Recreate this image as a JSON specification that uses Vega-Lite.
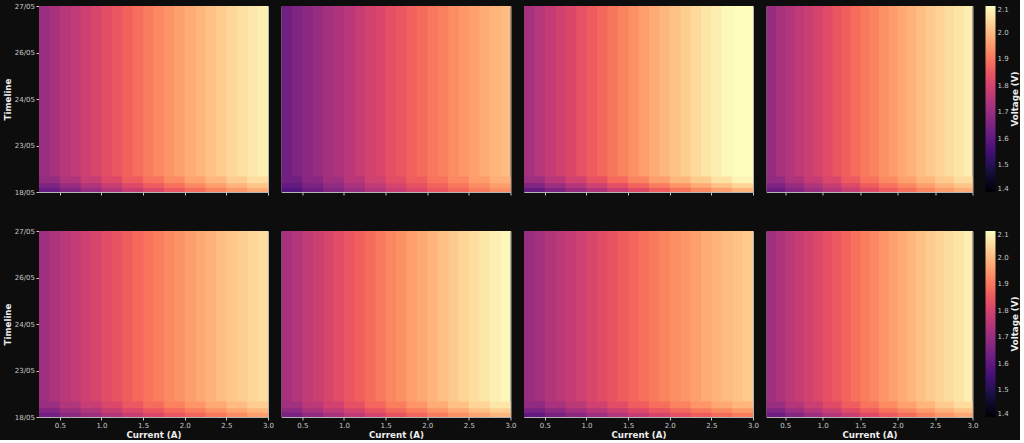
{
"$schema":"https://vega.github.io/schema/vega-lite/v6.json",
"background":"#0d0d0d",
"padding":{"left":2,"top":1,"right":0,"bottom":0},
"data":{"values":[
{"p":1,"c":0.25,"d":0.375,"t":0,"u":4,"v":1.703},{"p":1,"c":0.375,"d":0.5,"t":0,"u":4,"v":1.728},{"p":1,"c":0.5,"d":0.625,"t":0,"u":4,"v":1.75},{"p":1,"c":0.625,"d":0.75,"t":0,"u":4,"v":1.77},{"p":1,"c":0.75,"d":0.875,"t":0,"u":4,"v":1.79},{"p":1,"c":0.875,"d":1,"t":0,"u":4,"v":1.81},{"p":1,"c":1,"d":1.125,"t":0,"u":4,"v":1.83},{"p":1,"c":1.125,"d":1.25,"t":0,"u":4,"v":1.85},{"p":1,"c":1.25,"d":1.375,"t":0,"u":4,"v":1.87},{"p":1,"c":1.375,"d":1.5,"t":0,"u":4,"v":1.89},{"p":1,"c":1.5,"d":1.625,"t":0,"u":4,"v":1.909},{"p":1,"c":1.625,"d":1.75,"t":0,"u":4,"v":1.926},{"p":1,"c":1.75,"d":1.875,"t":0,"u":4,"v":1.944},{"p":1,"c":1.875,"d":2,"t":0,"u":4,"v":1.961},{"p":1,"c":2,"d":2.125,"t":0,"u":4,"v":1.978},{"p":1,"c":2.125,"d":2.25,"t":0,"u":4,"v":1.994},{"p":1,"c":2.25,"d":2.375,"t":0,"u":4,"v":2.01},{"p":1,"c":2.375,"d":2.5,"t":0,"u":4,"v":2.027},{"p":1,"c":2.5,"d":2.625,"t":0,"u":4,"v":2.042},{"p":1,"c":2.625,"d":2.75,"t":0,"u":4,"v":2.056},{"p":1,"c":2.75,"d":2.875,"t":0,"u":4,"v":2.069},{"p":1,"c":2.875,"d":3,"t":0,"u":4,"v":2.083},
{"p":2,"c":0.25,"d":0.375,"t":0,"u":4,"v":1.632},{"p":2,"c":0.375,"d":0.5,"t":0,"u":4,"v":1.657},{"p":2,"c":0.5,"d":0.625,"t":0,"u":4,"v":1.678},{"p":2,"c":0.625,"d":0.75,"t":0,"u":4,"v":1.698},{"p":2,"c":0.75,"d":0.875,"t":0,"u":4,"v":1.718},{"p":2,"c":0.875,"d":1,"t":0,"u":4,"v":1.737},{"p":2,"c":1,"d":1.125,"t":0,"u":4,"v":1.757},{"p":2,"c":1.125,"d":1.25,"t":0,"u":4,"v":1.776},{"p":2,"c":1.25,"d":1.375,"t":0,"u":4,"v":1.796},{"p":2,"c":1.375,"d":1.5,"t":0,"u":4,"v":1.815},{"p":2,"c":1.5,"d":1.625,"t":0,"u":4,"v":1.834},{"p":2,"c":1.625,"d":1.75,"t":0,"u":4,"v":1.85},{"p":2,"c":1.75,"d":1.875,"t":0,"u":4,"v":1.868},{"p":2,"c":1.875,"d":2,"t":0,"u":4,"v":1.884},{"p":2,"c":2,"d":2.125,"t":0,"u":4,"v":1.901},{"p":2,"c":2.125,"d":2.25,"t":0,"u":4,"v":1.916},{"p":2,"c":2.25,"d":2.375,"t":0,"u":4,"v":1.932},{"p":2,"c":2.375,"d":2.5,"t":0,"u":4,"v":1.949},{"p":2,"c":2.5,"d":2.625,"t":0,"u":4,"v":1.963},{"p":2,"c":2.625,"d":2.75,"t":0,"u":4,"v":1.977},{"p":2,"c":2.75,"d":2.875,"t":0,"u":4,"v":1.99},{"p":2,"c":2.875,"d":3,"t":0,"u":4,"v":2.003},
{"p":3,"c":0.25,"d":0.375,"t":0,"u":4,"v":1.723},{"p":3,"c":0.375,"d":0.5,"t":0,"u":4,"v":1.75},{"p":3,"c":0.5,"d":0.625,"t":0,"u":4,"v":1.773},{"p":3,"c":0.625,"d":0.75,"t":0,"u":4,"v":1.794},{"p":3,"c":0.75,"d":0.875,"t":0,"u":4,"v":1.815},{"p":3,"c":0.875,"d":1,"t":0,"u":4,"v":1.836},{"p":3,"c":1,"d":1.125,"t":0,"u":4,"v":1.857},{"p":3,"c":1.125,"d":1.25,"t":0,"u":4,"v":1.878},{"p":3,"c":1.25,"d":1.375,"t":0,"u":4,"v":1.899},{"p":3,"c":1.375,"d":1.5,"t":0,"u":4,"v":1.92},{"p":3,"c":1.5,"d":1.625,"t":0,"u":4,"v":1.94},{"p":3,"c":1.625,"d":1.75,"t":0,"u":4,"v":1.958},{"p":3,"c":1.75,"d":1.875,"t":0,"u":4,"v":1.977},{"p":3,"c":1.875,"d":2,"t":0,"u":4,"v":1.995},{"p":3,"c":2,"d":2.125,"t":0,"u":4,"v":2.012},{"p":3,"c":2.125,"d":2.25,"t":0,"u":4,"v":2.029},{"p":3,"c":2.25,"d":2.375,"t":0,"u":4,"v":2.046},{"p":3,"c":2.375,"d":2.5,"t":0,"u":4,"v":2.064},{"p":3,"c":2.5,"d":2.625,"t":0,"u":4,"v":2.08},{"p":3,"c":2.625,"d":2.75,"t":0,"u":4,"v":2.094},{"p":3,"c":2.75,"d":2.875,"t":0,"u":4,"v":2.108},{"p":3,"c":2.875,"d":3,"t":0,"u":4,"v":2.123},
{"p":4,"c":0.25,"d":0.375,"t":0,"u":4,"v":1.698},{"p":4,"c":0.375,"d":0.5,"t":0,"u":4,"v":1.723},{"p":4,"c":0.5,"d":0.625,"t":0,"u":4,"v":1.745},{"p":4,"c":0.625,"d":0.75,"t":0,"u":4,"v":1.765},{"p":4,"c":0.75,"d":0.875,"t":0,"u":4,"v":1.785},{"p":4,"c":0.875,"d":1,"t":0,"u":4,"v":1.805},{"p":4,"c":1,"d":1.125,"t":0,"u":4,"v":1.825},{"p":4,"c":1.125,"d":1.25,"t":0,"u":4,"v":1.845},{"p":4,"c":1.25,"d":1.375,"t":0,"u":4,"v":1.865},{"p":4,"c":1.375,"d":1.5,"t":0,"u":4,"v":1.885},{"p":4,"c":1.5,"d":1.625,"t":0,"u":4,"v":1.904},{"p":4,"c":1.625,"d":1.75,"t":0,"u":4,"v":1.921},{"p":4,"c":1.75,"d":1.875,"t":0,"u":4,"v":1.939},{"p":4,"c":1.875,"d":2,"t":0,"u":4,"v":1.956},{"p":4,"c":2,"d":2.125,"t":0,"u":4,"v":1.973},{"p":4,"c":2.125,"d":2.25,"t":0,"u":4,"v":1.989},{"p":4,"c":2.25,"d":2.375,"t":0,"u":4,"v":2.005},{"p":4,"c":2.375,"d":2.5,"t":0,"u":4,"v":2.022},{"p":4,"c":2.5,"d":2.625,"t":0,"u":4,"v":2.037},{"p":4,"c":2.625,"d":2.75,"t":0,"u":4,"v":2.051},{"p":4,"c":2.75,"d":2.875,"t":0,"u":4,"v":2.064},{"p":4,"c":2.875,"d":3,"t":0,"u":4,"v":2.078},
{"p":5,"c":0.25,"d":0.375,"t":0,"u":4,"v":1.712},{"p":5,"c":0.375,"d":0.5,"t":0,"u":4,"v":1.734},{"p":5,"c":0.5,"d":0.625,"t":0,"u":4,"v":1.754},{"p":5,"c":0.625,"d":0.75,"t":0,"u":4,"v":1.772},{"p":5,"c":0.75,"d":0.875,"t":0,"u":4,"v":1.79},{"p":5,"c":0.875,"d":1,"t":0,"u":4,"v":1.808},{"p":5,"c":1,"d":1.125,"t":0,"u":4,"v":1.826},{"p":5,"c":1.125,"d":1.25,"t":0,"u":4,"v":1.844},{"p":5,"c":1.25,"d":1.375,"t":0,"u":4,"v":1.862},{"p":5,"c":1.375,"d":1.5,"t":0,"u":4,"v":1.88},{"p":5,"c":1.5,"d":1.625,"t":0,"u":4,"v":1.897},{"p":5,"c":1.625,"d":1.75,"t":0,"u":4,"v":1.912},{"p":5,"c":1.75,"d":1.875,"t":0,"u":4,"v":1.929},{"p":5,"c":1.875,"d":2,"t":0,"u":4,"v":1.944},{"p":5,"c":2,"d":2.125,"t":0,"u":4,"v":1.959},{"p":5,"c":2.125,"d":2.25,"t":0,"u":4,"v":1.974},{"p":5,"c":2.25,"d":2.375,"t":0,"u":4,"v":1.988},{"p":5,"c":2.375,"d":2.5,"t":0,"u":4,"v":2.004},{"p":5,"c":2.5,"d":2.625,"t":0,"u":4,"v":2.017},{"p":5,"c":2.625,"d":2.75,"t":0,"u":4,"v":2.029},{"p":5,"c":2.75,"d":2.875,"t":0,"u":4,"v":2.041},{"p":5,"c":2.875,"d":3,"t":0,"u":4,"v":2.054},
{"p":6,"c":0.25,"d":0.375,"t":0,"u":4,"v":1.723},{"p":6,"c":0.375,"d":0.5,"t":0,"u":4,"v":1.747},{"p":6,"c":0.5,"d":0.625,"t":0,"u":4,"v":1.769},{"p":6,"c":0.625,"d":0.75,"t":0,"u":4,"v":1.788},{"p":6,"c":0.75,"d":0.875,"t":0,"u":4,"v":1.808},{"p":6,"c":0.875,"d":1,"t":0,"u":4,"v":1.827},{"p":6,"c":1,"d":1.125,"t":0,"u":4,"v":1.847},{"p":6,"c":1.125,"d":1.25,"t":0,"u":4,"v":1.866},{"p":6,"c":1.25,"d":1.375,"t":0,"u":4,"v":1.886},{"p":6,"c":1.375,"d":1.5,"t":0,"u":4,"v":1.905},{"p":6,"c":1.5,"d":1.625,"t":0,"u":4,"v":1.924},{"p":6,"c":1.625,"d":1.75,"t":0,"u":4,"v":1.94},{"p":6,"c":1.75,"d":1.875,"t":0,"u":4,"v":1.958},{"p":6,"c":1.875,"d":2,"t":0,"u":4,"v":1.974},{"p":6,"c":2,"d":2.125,"t":0,"u":4,"v":1.991},{"p":6,"c":2.125,"d":2.25,"t":0,"u":4,"v":2.006},{"p":6,"c":2.25,"d":2.375,"t":0,"u":4,"v":2.022},{"p":6,"c":2.375,"d":2.5,"t":0,"u":4,"v":2.039},{"p":6,"c":2.5,"d":2.625,"t":0,"u":4,"v":2.053},{"p":6,"c":2.625,"d":2.75,"t":0,"u":4,"v":2.067},{"p":6,"c":2.75,"d":2.875,"t":0,"u":4,"v":2.08},{"p":6,"c":2.875,"d":3,"t":0,"u":4,"v":2.093},
{"p":7,"c":0.25,"d":0.375,"t":0,"u":4,"v":1.701},{"p":7,"c":0.375,"d":0.5,"t":0,"u":4,"v":1.722},{"p":7,"c":0.5,"d":0.625,"t":0,"u":4,"v":1.741},{"p":7,"c":0.625,"d":0.75,"t":0,"u":4,"v":1.758},{"p":7,"c":0.75,"d":0.875,"t":0,"u":4,"v":1.775},{"p":7,"c":0.875,"d":1,"t":0,"u":4,"v":1.792},{"p":7,"c":1,"d":1.125,"t":0,"u":4,"v":1.809},{"p":7,"c":1.125,"d":1.25,"t":0,"u":4,"v":1.826},{"p":7,"c":1.25,"d":1.375,"t":0,"u":4,"v":1.843},{"p":7,"c":1.375,"d":1.5,"t":0,"u":4,"v":1.86},{"p":7,"c":1.5,"d":1.625,"t":0,"u":4,"v":1.876},{"p":7,"c":1.625,"d":1.75,"t":0,"u":4,"v":1.891},{"p":7,"c":1.75,"d":1.875,"t":0,"u":4,"v":1.906},{"p":7,"c":1.875,"d":2,"t":0,"u":4,"v":1.921},{"p":7,"c":2,"d":2.125,"t":0,"u":4,"v":1.935},{"p":7,"c":2.125,"d":2.25,"t":0,"u":4,"v":1.948},{"p":7,"c":2.25,"d":2.375,"t":0,"u":4,"v":1.962},{"p":7,"c":2.375,"d":2.5,"t":0,"u":4,"v":1.977},{"p":7,"c":2.5,"d":2.625,"t":0,"u":4,"v":1.989},{"p":7,"c":2.625,"d":2.75,"t":0,"u":4,"v":2.001},{"p":7,"c":2.75,"d":2.875,"t":0,"u":4,"v":2.012},{"p":7,"c":2.875,"d":3,"t":0,"u":4,"v":2.024},
{"p":8,"c":0.25,"d":0.375,"t":0,"u":4,"v":1.712},{"p":8,"c":0.375,"d":0.5,"t":0,"u":4,"v":1.736},{"p":8,"c":0.5,"d":0.625,"t":0,"u":4,"v":1.758},{"p":8,"c":0.625,"d":0.75,"t":0,"u":4,"v":1.777},{"p":8,"c":0.75,"d":0.875,"t":0,"u":4,"v":1.796},{"p":8,"c":0.875,"d":1,"t":0,"u":4,"v":1.816},{"p":8,"c":1,"d":1.125,"t":0,"u":4,"v":1.835},{"p":8,"c":1.125,"d":1.25,"t":0,"u":4,"v":1.854},{"p":8,"c":1.25,"d":1.375,"t":0,"u":4,"v":1.873},{"p":8,"c":1.375,"d":1.5,"t":0,"u":4,"v":1.893},{"p":8,"c":1.5,"d":1.625,"t":0,"u":4,"v":1.911},{"p":8,"c":1.625,"d":1.75,"t":0,"u":4,"v":1.927},{"p":8,"c":1.75,"d":1.875,"t":0,"u":4,"v":1.945},{"p":8,"c":1.875,"d":2,"t":0,"u":4,"v":1.961},{"p":8,"c":2,"d":2.125,"t":0,"u":4,"v":1.977},{"p":8,"c":2.125,"d":2.25,"t":0,"u":4,"v":1.993},{"p":8,"c":2.25,"d":2.375,"t":0,"u":4,"v":2.008},{"p":8,"c":2.375,"d":2.5,"t":0,"u":4,"v":2.025},{"p":8,"c":2.5,"d":2.625,"t":0,"u":4,"v":2.039},{"p":8,"c":2.625,"d":2.75,"t":0,"u":4,"v":2.052},{"p":8,"c":2.75,"d":2.875,"t":0,"u":4,"v":2.065},{"p":8,"c":2.875,"d":3,"t":0,"u":4,"v":2.079},
{"p":1,"c":0.25,"d":0.5,"t":0,"u":0.09,"v":1.616},{"p":1,"c":0.5,"d":0.75,"t":0,"u":0.09,"v":1.661},{"p":1,"c":0.75,"d":1,"t":0,"u":0.09,"v":1.701},{"p":1,"c":1,"d":1.25,"t":0,"u":0.09,"v":1.741},{"p":1,"c":1.25,"d":1.5,"t":0,"u":0.09,"v":1.781},{"p":1,"c":1.5,"d":1.75,"t":0,"u":0.09,"v":1.819},{"p":1,"c":1.75,"d":2,"t":0,"u":0.09,"v":1.854},{"p":1,"c":2,"d":2.25,"t":0,"u":0.09,"v":1.887},{"p":1,"c":2.25,"d":2.5,"t":0,"u":0.09,"v":1.919},{"p":1,"c":2.5,"d":2.75,"t":0,"u":0.09,"v":1.95},{"p":1,"c":2.75,"d":3,"t":0,"u":0.09,"v":1.977},
{"p":1,"c":0.25,"d":0.5,"t":0.09,"u":0.19,"v":1.655},{"p":1,"c":0.5,"d":0.75,"t":0.09,"u":0.19,"v":1.7},{"p":1,"c":0.75,"d":1,"t":0.09,"u":0.19,"v":1.74},{"p":1,"c":1,"d":1.25,"t":0.09,"u":0.19,"v":1.78},{"p":1,"c":1.25,"d":1.5,"t":0.09,"u":0.19,"v":1.82},{"p":1,"c":1.5,"d":1.75,"t":0.09,"u":0.19,"v":1.858},{"p":1,"c":1.75,"d":2,"t":0.09,"u":0.19,"v":1.893},{"p":1,"c":2,"d":2.25,"t":0.09,"u":0.19,"v":1.926},{"p":1,"c":2.25,"d":2.5,"t":0.09,"u":0.19,"v":1.958},{"p":1,"c":2.5,"d":2.75,"t":0.09,"u":0.19,"v":1.989},{"p":1,"c":2.75,"d":3,"t":0.09,"u":0.19,"v":2.016},
{"p":1,"c":0.25,"d":0.5,"t":0.19,"u":0.32,"v":1.693},{"p":1,"c":0.5,"d":0.75,"t":0.19,"u":0.32,"v":1.738},{"p":1,"c":0.75,"d":1,"t":0.19,"u":0.32,"v":1.778},{"p":1,"c":1,"d":1.25,"t":0.19,"u":0.32,"v":1.818},{"p":1,"c":1.25,"d":1.5,"t":0.19,"u":0.32,"v":1.858},{"p":1,"c":1.5,"d":1.75,"t":0.19,"u":0.32,"v":1.896},{"p":1,"c":1.75,"d":2,"t":0.19,"u":0.32,"v":1.931},{"p":1,"c":2,"d":2.25,"t":0.19,"u":0.32,"v":1.964},{"p":1,"c":2.25,"d":2.5,"t":0.19,"u":0.32,"v":1.996},{"p":1,"c":2.5,"d":2.75,"t":0.19,"u":0.32,"v":2.027},{"p":1,"c":2.75,"d":3,"t":0.19,"u":0.32,"v":2.054},
{"p":2,"c":0.25,"d":0.5,"t":0,"u":0.09,"v":1.582},{"p":2,"c":0.5,"d":0.75,"t":0,"u":0.09,"v":1.625},{"p":2,"c":0.75,"d":1,"t":0,"u":0.09,"v":1.664},{"p":2,"c":1,"d":1.25,"t":0,"u":0.09,"v":1.703},{"p":2,"c":1.25,"d":1.5,"t":0,"u":0.09,"v":1.742},{"p":2,"c":1.5,"d":1.75,"t":0,"u":0.09,"v":1.779},{"p":2,"c":1.75,"d":2,"t":0,"u":0.09,"v":1.813},{"p":2,"c":2,"d":2.25,"t":0,"u":0.09,"v":1.846},{"p":2,"c":2.25,"d":2.5,"t":0,"u":0.09,"v":1.877},{"p":2,"c":2.5,"d":2.75,"t":0,"u":0.09,"v":1.907},{"p":2,"c":2.75,"d":3,"t":0,"u":0.09,"v":1.934},
{"p":2,"c":0.25,"d":0.5,"t":0.09,"u":0.19,"v":1.607},{"p":2,"c":0.5,"d":0.75,"t":0.09,"u":0.19,"v":1.65},{"p":2,"c":0.75,"d":1,"t":0.09,"u":0.19,"v":1.689},{"p":2,"c":1,"d":1.25,"t":0.09,"u":0.19,"v":1.728},{"p":2,"c":1.25,"d":1.5,"t":0.09,"u":0.19,"v":1.767},{"p":2,"c":1.5,"d":1.75,"t":0.09,"u":0.19,"v":1.804},{"p":2,"c":1.75,"d":2,"t":0.09,"u":0.19,"v":1.838},{"p":2,"c":2,"d":2.25,"t":0.09,"u":0.19,"v":1.871},{"p":2,"c":2.25,"d":2.5,"t":0.09,"u":0.19,"v":1.902},{"p":2,"c":2.5,"d":2.75,"t":0.09,"u":0.19,"v":1.932},{"p":2,"c":2.75,"d":3,"t":0.09,"u":0.19,"v":1.959},
{"p":2,"c":0.25,"d":0.5,"t":0.19,"u":0.32,"v":1.631},{"p":2,"c":0.5,"d":0.75,"t":0.19,"u":0.32,"v":1.674},{"p":2,"c":0.75,"d":1,"t":0.19,"u":0.32,"v":1.713},{"p":2,"c":1,"d":1.25,"t":0.19,"u":0.32,"v":1.752},{"p":2,"c":1.25,"d":1.5,"t":0.19,"u":0.32,"v":1.791},{"p":2,"c":1.5,"d":1.75,"t":0.19,"u":0.32,"v":1.828},{"p":2,"c":1.75,"d":2,"t":0.19,"u":0.32,"v":1.862},{"p":2,"c":2,"d":2.25,"t":0.19,"u":0.32,"v":1.895},{"p":2,"c":2.25,"d":2.5,"t":0.19,"u":0.32,"v":1.926},{"p":2,"c":2.5,"d":2.75,"t":0.19,"u":0.32,"v":1.956},{"p":2,"c":2.75,"d":3,"t":0.19,"u":0.32,"v":1.983},
{"p":3,"c":0.25,"d":0.5,"t":0,"u":0.09,"v":1.61},{"p":3,"c":0.5,"d":0.75,"t":0,"u":0.09,"v":1.658},{"p":3,"c":0.75,"d":1,"t":0,"u":0.09,"v":1.7},{"p":3,"c":1,"d":1.25,"t":0,"u":0.09,"v":1.742},{"p":3,"c":1.25,"d":1.5,"t":0,"u":0.09,"v":1.784},{"p":3,"c":1.5,"d":1.75,"t":0,"u":0.09,"v":1.823},{"p":3,"c":1.75,"d":2,"t":0,"u":0.09,"v":1.86},{"p":3,"c":2,"d":2.25,"t":0,"u":0.09,"v":1.895},{"p":3,"c":2.25,"d":2.5,"t":0,"u":0.09,"v":1.928},{"p":3,"c":2.5,"d":2.75,"t":0,"u":0.09,"v":1.961},{"p":3,"c":2.75,"d":3,"t":0,"u":0.09,"v":1.99},
{"p":3,"c":0.25,"d":0.5,"t":0.09,"u":0.19,"v":1.659},{"p":3,"c":0.5,"d":0.75,"t":0.09,"u":0.19,"v":1.707},{"p":3,"c":0.75,"d":1,"t":0.09,"u":0.19,"v":1.749},{"p":3,"c":1,"d":1.25,"t":0.09,"u":0.19,"v":1.791},{"p":3,"c":1.25,"d":1.5,"t":0.09,"u":0.19,"v":1.833},{"p":3,"c":1.5,"d":1.75,"t":0.09,"u":0.19,"v":1.872},{"p":3,"c":1.75,"d":2,"t":0.09,"u":0.19,"v":1.909},{"p":3,"c":2,"d":2.25,"t":0.09,"u":0.19,"v":1.944},{"p":3,"c":2.25,"d":2.5,"t":0.09,"u":0.19,"v":1.977},{"p":3,"c":2.5,"d":2.75,"t":0.09,"u":0.19,"v":2.01},{"p":3,"c":2.75,"d":3,"t":0.09,"u":0.19,"v":2.039},
{"p":3,"c":0.25,"d":0.5,"t":0.19,"u":0.32,"v":1.708},{"p":3,"c":0.5,"d":0.75,"t":0.19,"u":0.32,"v":1.756},{"p":3,"c":0.75,"d":1,"t":0.19,"u":0.32,"v":1.798},{"p":3,"c":1,"d":1.25,"t":0.19,"u":0.32,"v":1.84},{"p":3,"c":1.25,"d":1.5,"t":0.19,"u":0.32,"v":1.882},{"p":3,"c":1.5,"d":1.75,"t":0.19,"u":0.32,"v":1.921},{"p":3,"c":1.75,"d":2,"t":0.19,"u":0.32,"v":1.958},{"p":3,"c":2,"d":2.25,"t":0.19,"u":0.32,"v":1.993},{"p":3,"c":2.25,"d":2.5,"t":0.19,"u":0.32,"v":2.026},{"p":3,"c":2.5,"d":2.75,"t":0.19,"u":0.32,"v":2.059},{"p":3,"c":2.75,"d":3,"t":0.19,"u":0.32,"v":2.088},
{"p":4,"c":0.25,"d":0.5,"t":0,"u":0.09,"v":1.62},{"p":4,"c":0.5,"d":0.75,"t":0,"u":0.09,"v":1.665},{"p":4,"c":0.75,"d":1,"t":0,"u":0.09,"v":1.705},{"p":4,"c":1,"d":1.25,"t":0,"u":0.09,"v":1.745},{"p":4,"c":1.25,"d":1.5,"t":0,"u":0.09,"v":1.785},{"p":4,"c":1.5,"d":1.75,"t":0,"u":0.09,"v":1.823},{"p":4,"c":1.75,"d":2,"t":0,"u":0.09,"v":1.858},{"p":4,"c":2,"d":2.25,"t":0,"u":0.09,"v":1.891},{"p":4,"c":2.25,"d":2.5,"t":0,"u":0.09,"v":1.923},{"p":4,"c":2.5,"d":2.75,"t":0,"u":0.09,"v":1.954},{"p":4,"c":2.75,"d":3,"t":0,"u":0.09,"v":1.981},
{"p":4,"c":0.25,"d":0.5,"t":0.09,"u":0.19,"v":1.655},{"p":4,"c":0.5,"d":0.75,"t":0.09,"u":0.19,"v":1.7},{"p":4,"c":0.75,"d":1,"t":0.09,"u":0.19,"v":1.74},{"p":4,"c":1,"d":1.25,"t":0.09,"u":0.19,"v":1.78},{"p":4,"c":1.25,"d":1.5,"t":0.09,"u":0.19,"v":1.82},{"p":4,"c":1.5,"d":1.75,"t":0.09,"u":0.19,"v":1.858},{"p":4,"c":1.75,"d":2,"t":0.09,"u":0.19,"v":1.893},{"p":4,"c":2,"d":2.25,"t":0.09,"u":0.19,"v":1.926},{"p":4,"c":2.25,"d":2.5,"t":0.09,"u":0.19,"v":1.958},{"p":4,"c":2.5,"d":2.75,"t":0.09,"u":0.19,"v":1.989},{"p":4,"c":2.75,"d":3,"t":0.09,"u":0.19,"v":2.016},
{"p":4,"c":0.25,"d":0.5,"t":0.19,"u":0.32,"v":1.69},{"p":4,"c":0.5,"d":0.75,"t":0.19,"u":0.32,"v":1.735},{"p":4,"c":0.75,"d":1,"t":0.19,"u":0.32,"v":1.775},{"p":4,"c":1,"d":1.25,"t":0.19,"u":0.32,"v":1.815},{"p":4,"c":1.25,"d":1.5,"t":0.19,"u":0.32,"v":1.855},{"p":4,"c":1.5,"d":1.75,"t":0.19,"u":0.32,"v":1.893},{"p":4,"c":1.75,"d":2,"t":0.19,"u":0.32,"v":1.928},{"p":4,"c":2,"d":2.25,"t":0.19,"u":0.32,"v":1.961},{"p":4,"c":2.25,"d":2.5,"t":0.19,"u":0.32,"v":1.993},{"p":4,"c":2.5,"d":2.75,"t":0.19,"u":0.32,"v":2.024},{"p":4,"c":2.75,"d":3,"t":0.19,"u":0.32,"v":2.051},
{"p":5,"c":0.25,"d":0.5,"t":0,"u":0.09,"v":1.633},{"p":5,"c":0.5,"d":0.75,"t":0,"u":0.09,"v":1.673},{"p":5,"c":0.75,"d":1,"t":0,"u":0.09,"v":1.709},{"p":5,"c":1,"d":1.25,"t":0,"u":0.09,"v":1.745},{"p":5,"c":1.25,"d":1.5,"t":0,"u":0.09,"v":1.781},{"p":5,"c":1.5,"d":1.75,"t":0,"u":0.09,"v":1.815},{"p":5,"c":1.75,"d":2,"t":0,"u":0.09,"v":1.847},{"p":5,"c":2,"d":2.25,"t":0,"u":0.09,"v":1.876},{"p":5,"c":2.25,"d":2.5,"t":0,"u":0.09,"v":1.905},{"p":5,"c":2.5,"d":2.75,"t":0,"u":0.09,"v":1.933},{"p":5,"c":2.75,"d":3,"t":0,"u":0.09,"v":1.958},
{"p":5,"c":0.25,"d":0.5,"t":0.09,"u":0.19,"v":1.668},{"p":5,"c":0.5,"d":0.75,"t":0.09,"u":0.19,"v":1.708},{"p":5,"c":0.75,"d":1,"t":0.09,"u":0.19,"v":1.744},{"p":5,"c":1,"d":1.25,"t":0.09,"u":0.19,"v":1.78},{"p":5,"c":1.25,"d":1.5,"t":0.09,"u":0.19,"v":1.816},{"p":5,"c":1.5,"d":1.75,"t":0.09,"u":0.19,"v":1.85},{"p":5,"c":1.75,"d":2,"t":0.09,"u":0.19,"v":1.882},{"p":5,"c":2,"d":2.25,"t":0.09,"u":0.19,"v":1.911},{"p":5,"c":2.25,"d":2.5,"t":0.09,"u":0.19,"v":1.94},{"p":5,"c":2.5,"d":2.75,"t":0.09,"u":0.19,"v":1.968},{"p":5,"c":2.75,"d":3,"t":0.09,"u":0.19,"v":1.993},
{"p":5,"c":0.25,"d":0.5,"t":0.19,"u":0.32,"v":1.703},{"p":5,"c":0.5,"d":0.75,"t":0.19,"u":0.32,"v":1.743},{"p":5,"c":0.75,"d":1,"t":0.19,"u":0.32,"v":1.779},{"p":5,"c":1,"d":1.25,"t":0.19,"u":0.32,"v":1.815},{"p":5,"c":1.25,"d":1.5,"t":0.19,"u":0.32,"v":1.851},{"p":5,"c":1.5,"d":1.75,"t":0.19,"u":0.32,"v":1.885},{"p":5,"c":1.75,"d":2,"t":0.19,"u":0.32,"v":1.917},{"p":5,"c":2,"d":2.25,"t":0.19,"u":0.32,"v":1.946},{"p":5,"c":2.25,"d":2.5,"t":0.19,"u":0.32,"v":1.975},{"p":5,"c":2.5,"d":2.75,"t":0.19,"u":0.32,"v":2.003},{"p":5,"c":2.75,"d":3,"t":0.19,"u":0.32,"v":2.028},
{"p":6,"c":0.25,"d":0.5,"t":0,"u":0.09,"v":1.645},{"p":6,"c":0.5,"d":0.75,"t":0,"u":0.09,"v":1.688},{"p":6,"c":0.75,"d":1,"t":0,"u":0.09,"v":1.727},{"p":6,"c":1,"d":1.25,"t":0,"u":0.09,"v":1.766},{"p":6,"c":1.25,"d":1.5,"t":0,"u":0.09,"v":1.805},{"p":6,"c":1.5,"d":1.75,"t":0,"u":0.09,"v":1.842},{"p":6,"c":1.75,"d":2,"t":0,"u":0.09,"v":1.876},{"p":6,"c":2,"d":2.25,"t":0,"u":0.09,"v":1.909},{"p":6,"c":2.25,"d":2.5,"t":0,"u":0.09,"v":1.94},{"p":6,"c":2.5,"d":2.75,"t":0,"u":0.09,"v":1.97},{"p":6,"c":2.75,"d":3,"t":0,"u":0.09,"v":1.997},
{"p":6,"c":0.25,"d":0.5,"t":0.09,"u":0.19,"v":1.68},{"p":6,"c":0.5,"d":0.75,"t":0.09,"u":0.19,"v":1.723},{"p":6,"c":0.75,"d":1,"t":0.09,"u":0.19,"v":1.762},{"p":6,"c":1,"d":1.25,"t":0.09,"u":0.19,"v":1.801},{"p":6,"c":1.25,"d":1.5,"t":0.09,"u":0.19,"v":1.84},{"p":6,"c":1.5,"d":1.75,"t":0.09,"u":0.19,"v":1.877},{"p":6,"c":1.75,"d":2,"t":0.09,"u":0.19,"v":1.911},{"p":6,"c":2,"d":2.25,"t":0.09,"u":0.19,"v":1.944},{"p":6,"c":2.25,"d":2.5,"t":0.09,"u":0.19,"v":1.975},{"p":6,"c":2.5,"d":2.75,"t":0.09,"u":0.19,"v":2.005},{"p":6,"c":2.75,"d":3,"t":0.09,"u":0.19,"v":2.032},
{"p":6,"c":0.25,"d":0.5,"t":0.19,"u":0.32,"v":1.715},{"p":6,"c":0.5,"d":0.75,"t":0.19,"u":0.32,"v":1.758},{"p":6,"c":0.75,"d":1,"t":0.19,"u":0.32,"v":1.797},{"p":6,"c":1,"d":1.25,"t":0.19,"u":0.32,"v":1.836},{"p":6,"c":1.25,"d":1.5,"t":0.19,"u":0.32,"v":1.875},{"p":6,"c":1.5,"d":1.75,"t":0.19,"u":0.32,"v":1.912},{"p":6,"c":1.75,"d":2,"t":0.19,"u":0.32,"v":1.946},{"p":6,"c":2,"d":2.25,"t":0.19,"u":0.32,"v":1.979},{"p":6,"c":2.25,"d":2.5,"t":0.19,"u":0.32,"v":2.01},{"p":6,"c":2.5,"d":2.75,"t":0.19,"u":0.32,"v":2.04},{"p":6,"c":2.75,"d":3,"t":0.19,"u":0.32,"v":2.067},
{"p":7,"c":0.25,"d":0.5,"t":0,"u":0.09,"v":1.603},{"p":7,"c":0.5,"d":0.75,"t":0,"u":0.09,"v":1.642},{"p":7,"c":0.75,"d":1,"t":0,"u":0.09,"v":1.676},{"p":7,"c":1,"d":1.25,"t":0,"u":0.09,"v":1.71},{"p":7,"c":1.25,"d":1.5,"t":0,"u":0.09,"v":1.744},{"p":7,"c":1.5,"d":1.75,"t":0,"u":0.09,"v":1.776},{"p":7,"c":1.75,"d":2,"t":0,"u":0.09,"v":1.805},{"p":7,"c":2,"d":2.25,"t":0,"u":0.09,"v":1.834},{"p":7,"c":2.25,"d":2.5,"t":0,"u":0.09,"v":1.861},{"p":7,"c":2.5,"d":2.75,"t":0,"u":0.09,"v":1.887},{"p":7,"c":2.75,"d":3,"t":0,"u":0.09,"v":1.91},
{"p":7,"c":0.25,"d":0.5,"t":0.09,"u":0.19,"v":1.645},{"p":7,"c":0.5,"d":0.75,"t":0.09,"u":0.19,"v":1.684},{"p":7,"c":0.75,"d":1,"t":0.09,"u":0.19,"v":1.718},{"p":7,"c":1,"d":1.25,"t":0.09,"u":0.19,"v":1.752},{"p":7,"c":1.25,"d":1.5,"t":0.09,"u":0.19,"v":1.786},{"p":7,"c":1.5,"d":1.75,"t":0.09,"u":0.19,"v":1.818},{"p":7,"c":1.75,"d":2,"t":0.09,"u":0.19,"v":1.847},{"p":7,"c":2,"d":2.25,"t":0.09,"u":0.19,"v":1.876},{"p":7,"c":2.25,"d":2.5,"t":0.09,"u":0.19,"v":1.903},{"p":7,"c":2.5,"d":2.75,"t":0.09,"u":0.19,"v":1.929},{"p":7,"c":2.75,"d":3,"t":0.09,"u":0.19,"v":1.952},
{"p":7,"c":0.25,"d":0.5,"t":0.19,"u":0.32,"v":1.687},{"p":7,"c":0.5,"d":0.75,"t":0.19,"u":0.32,"v":1.726},{"p":7,"c":0.75,"d":1,"t":0.19,"u":0.32,"v":1.76},{"p":7,"c":1,"d":1.25,"t":0.19,"u":0.32,"v":1.794},{"p":7,"c":1.25,"d":1.5,"t":0.19,"u":0.32,"v":1.828},{"p":7,"c":1.5,"d":1.75,"t":0.19,"u":0.32,"v":1.86},{"p":7,"c":1.75,"d":2,"t":0.19,"u":0.32,"v":1.889},{"p":7,"c":2,"d":2.25,"t":0.19,"u":0.32,"v":1.918},{"p":7,"c":2.25,"d":2.5,"t":0.19,"u":0.32,"v":1.945},{"p":7,"c":2.5,"d":2.75,"t":0.19,"u":0.32,"v":1.971},{"p":7,"c":2.75,"d":3,"t":0.19,"u":0.32,"v":1.994},
{"p":8,"c":0.25,"d":0.5,"t":0,"u":0.09,"v":1.625},{"p":8,"c":0.5,"d":0.75,"t":0,"u":0.09,"v":1.668},{"p":8,"c":0.75,"d":1,"t":0,"u":0.09,"v":1.707},{"p":8,"c":1,"d":1.25,"t":0,"u":0.09,"v":1.745},{"p":8,"c":1.25,"d":1.5,"t":0,"u":0.09,"v":1.784},{"p":8,"c":1.5,"d":1.75,"t":0,"u":0.09,"v":1.82},{"p":8,"c":1.75,"d":2,"t":0,"u":0.09,"v":1.854},{"p":8,"c":2,"d":2.25,"t":0,"u":0.09,"v":1.886},{"p":8,"c":2.25,"d":2.5,"t":0,"u":0.09,"v":1.917},{"p":8,"c":2.5,"d":2.75,"t":0,"u":0.09,"v":1.947},{"p":8,"c":2.75,"d":3,"t":0,"u":0.09,"v":1.973},
{"p":8,"c":0.25,"d":0.5,"t":0.09,"u":0.19,"v":1.664},{"p":8,"c":0.5,"d":0.75,"t":0.09,"u":0.19,"v":1.707},{"p":8,"c":0.75,"d":1,"t":0.09,"u":0.19,"v":1.746},{"p":8,"c":1,"d":1.25,"t":0.09,"u":0.19,"v":1.784},{"p":8,"c":1.25,"d":1.5,"t":0.09,"u":0.19,"v":1.823},{"p":8,"c":1.5,"d":1.75,"t":0.09,"u":0.19,"v":1.859},{"p":8,"c":1.75,"d":2,"t":0.09,"u":0.19,"v":1.893},{"p":8,"c":2,"d":2.25,"t":0.09,"u":0.19,"v":1.925},{"p":8,"c":2.25,"d":2.5,"t":0.09,"u":0.19,"v":1.956},{"p":8,"c":2.5,"d":2.75,"t":0.09,"u":0.19,"v":1.986},{"p":8,"c":2.75,"d":3,"t":0.09,"u":0.19,"v":2.012},
{"p":8,"c":0.25,"d":0.5,"t":0.19,"u":0.32,"v":1.702},{"p":8,"c":0.5,"d":0.75,"t":0.19,"u":0.32,"v":1.745},{"p":8,"c":0.75,"d":1,"t":0.19,"u":0.32,"v":1.784},{"p":8,"c":1,"d":1.25,"t":0.19,"u":0.32,"v":1.822},{"p":8,"c":1.25,"d":1.5,"t":0.19,"u":0.32,"v":1.861},{"p":8,"c":1.5,"d":1.75,"t":0.19,"u":0.32,"v":1.897},{"p":8,"c":1.75,"d":2,"t":0.19,"u":0.32,"v":1.931},{"p":8,"c":2,"d":2.25,"t":0.19,"u":0.32,"v":1.963},{"p":8,"c":2.25,"d":2.5,"t":0.19,"u":0.32,"v":1.994},{"p":8,"c":2.5,"d":2.75,"t":0.19,"u":0.32,"v":2.024},{"p":8,"c":2.75,"d":3,"t":0.19,"u":0.32,"v":2.05}
]},
"resolve":{"scale":{"color":"independent"},"legend":{"color":"independent"}},
"spacing":30,
"vconcat":[
{"resolve":{"scale":{"color":"independent"},"legend":{"color":"independent"}},"spacing":13.5,"bounds":"flush","hconcat":[
{"width":229,"height":186,"transform":[{"filter":"datum.p==1"}],"mark":{"type":"rect","x2Offset":0.7,"y2Offset":-0.7,"clip":true},"encoding":{
"x":{"field":"c","type":"quantitative","scale":{"domain":[0.25,3],"nice":false,"zero":false},"axis":{"values":[0.5,1,1.5,2,2.5,3],"labels":false,"title":null}},
"x2":{"field":"d"},
"y":{"field":"t","type":"quantitative","scale":{"domain":[0,4],"nice":false,"zero":false},"axis":{"values":[0,1,2,3,4],"labelExpr":"['18/05','23/05','24/05','26/05','27/05'][datum.value]","title":"Timeline","titlePadding":2}},
"y2":{"field":"u"},
"color":{"field":"v","type":"quantitative","scale":{"scheme":"magma","domain":[1.4,2.1],"clamp":true},"legend":null}}},
{"width":229,"height":186,"transform":[{"filter":"datum.p==2"}],"mark":{"type":"rect","x2Offset":0.7,"y2Offset":-0.7,"clip":true},"encoding":{
"x":{"field":"c","type":"quantitative","scale":{"domain":[0.25,3],"nice":false,"zero":false},"axis":{"values":[0.5,1,1.5,2,2.5,3],"labels":false,"title":null}},
"x2":{"field":"d"},
"y":{"field":"t","type":"quantitative","scale":{"domain":[0,4],"nice":false,"zero":false},"axis":null},
"y2":{"field":"u"},
"color":{"field":"v","type":"quantitative","scale":{"scheme":"magma","domain":[1.4,2.1],"clamp":true},"legend":null}}},
{"width":229,"height":186,"transform":[{"filter":"datum.p==3"}],"mark":{"type":"rect","x2Offset":0.7,"y2Offset":-0.7,"clip":true},"encoding":{
"x":{"field":"c","type":"quantitative","scale":{"domain":[0.25,3],"nice":false,"zero":false},"axis":{"values":[0.5,1,1.5,2,2.5,3],"labels":false,"title":null}},
"x2":{"field":"d"},
"y":{"field":"t","type":"quantitative","scale":{"domain":[0,4],"nice":false,"zero":false},"axis":null},
"y2":{"field":"u"},
"color":{"field":"v","type":"quantitative","scale":{"scheme":"magma","domain":[1.4,2.1],"clamp":true},"legend":null}}},
{"width":206,"height":186,"transform":[{"filter":"datum.p==4"}],"mark":{"type":"rect","x2Offset":0.7,"y2Offset":-0.7,"clip":true},"encoding":{
"x":{"field":"c","type":"quantitative","scale":{"domain":[0.25,3],"nice":false,"zero":false},"axis":{"values":[0.5,1,1.5,2,2.5,3],"labels":false,"title":null}},
"x2":{"field":"d"},
"y":{"field":"t","type":"quantitative","scale":{"domain":[0,4],"nice":false,"zero":false},"axis":null},
"y2":{"field":"u"},
"color":{"field":"v","type":"quantitative","scale":{"scheme":"magma","domain":[1.4,2.1],"clamp":true},"legend":{"title":"Voltage (V)","values":[1.4,1.5,1.6,1.7,1.8,1.9,2.0,2.1],"format":".1f","orient":"right","direction":"vertical","encode":{"title":{"update":{"angle":{"value":270},"baseline":{"value":"top"}}}}}}}}
]},
{"resolve":{"scale":{"color":"independent"},"legend":{"color":"independent"}},"spacing":13.5,"bounds":"flush","hconcat":[
{"width":229,"height":186,"transform":[{"filter":"datum.p==5"}],"mark":{"type":"rect","x2Offset":0.7,"y2Offset":-0.7,"clip":true},"encoding":{
"x":{"field":"c","type":"quantitative","scale":{"domain":[0.25,3],"nice":false,"zero":false},"axis":{"values":[0.5,1,1.5,2,2.5,3],"format":".1f","title":"Current (A)"}},
"x2":{"field":"d"},
"y":{"field":"t","type":"quantitative","scale":{"domain":[0,4],"nice":false,"zero":false},"axis":{"values":[0,1,2,3,4],"labelExpr":"['18/05','23/05','24/05','26/05','27/05'][datum.value]","title":"Timeline","titlePadding":2}},
"y2":{"field":"u"},
"color":{"field":"v","type":"quantitative","scale":{"scheme":"magma","domain":[1.4,2.1],"clamp":true},"legend":null}}},
{"width":229,"height":186,"transform":[{"filter":"datum.p==6"}],"mark":{"type":"rect","x2Offset":0.7,"y2Offset":-0.7,"clip":true},"encoding":{
"x":{"field":"c","type":"quantitative","scale":{"domain":[0.25,3],"nice":false,"zero":false},"axis":{"values":[0.5,1,1.5,2,2.5,3],"format":".1f","title":"Current (A)"}},
"x2":{"field":"d"},
"y":{"field":"t","type":"quantitative","scale":{"domain":[0,4],"nice":false,"zero":false},"axis":null},
"y2":{"field":"u"},
"color":{"field":"v","type":"quantitative","scale":{"scheme":"magma","domain":[1.4,2.1],"clamp":true},"legend":null}}},
{"width":229,"height":186,"transform":[{"filter":"datum.p==7"}],"mark":{"type":"rect","x2Offset":0.7,"y2Offset":-0.7,"clip":true},"encoding":{
"x":{"field":"c","type":"quantitative","scale":{"domain":[0.25,3],"nice":false,"zero":false},"axis":{"values":[0.5,1,1.5,2,2.5,3],"format":".1f","title":"Current (A)"}},
"x2":{"field":"d"},
"y":{"field":"t","type":"quantitative","scale":{"domain":[0,4],"nice":false,"zero":false},"axis":null},
"y2":{"field":"u"},
"color":{"field":"v","type":"quantitative","scale":{"scheme":"magma","domain":[1.4,2.1],"clamp":true},"legend":null}}},
{"width":206,"height":186,"transform":[{"filter":"datum.p==8"}],"mark":{"type":"rect","x2Offset":0.7,"y2Offset":-0.7,"clip":true},"encoding":{
"x":{"field":"c","type":"quantitative","scale":{"domain":[0.25,3],"nice":false,"zero":false},"axis":{"values":[0.5,1,1.5,2,2.5,3],"format":".1f","title":"Current (A)"}},
"x2":{"field":"d"},
"y":{"field":"t","type":"quantitative","scale":{"domain":[0,4],"nice":false,"zero":false},"axis":null},
"y2":{"field":"u"},
"color":{"field":"v","type":"quantitative","scale":{"scheme":"magma","domain":[1.4,2.1],"clamp":true},"legend":{"title":"Voltage (V)","values":[1.4,1.5,1.6,1.7,1.8,1.9,2.0,2.1],"format":".1f","orient":"right","direction":"vertical","encode":{"title":{"update":{"angle":{"value":270},"baseline":{"value":"top"}}}}}}}}
]}
],
"config":{
"view":{"stroke":"#b4b4b4","strokeWidth":1},
"axis":{"domain":false,"grid":false,"labelFont":"DejaVu Sans","labelFontSize":7,"labelColor":"#c8c8c8","labelFlush":false,"labelOverlap":false,"tickColor":"#c8c8c8","tickSize":3,"labelPadding":1.5,"titleFont":"DejaVu Sans","titleFontSize":8.7,"titleFontWeight":"bold","titleColor":"#eeeeee","titlePadding":2},
"legend":{"gradientLength":186,"gradientThickness":10,"gradientStrokeWidth":0,"labelFont":"DejaVu Sans","labelFontSize":7,"labelColor":"#c8c8c8","labelOffset":5,"labelOverlap":false,"titleFont":"DejaVu Sans","titleFontSize":8.7,"titleFontWeight":"bold","titleColor":"#eeeeee","titleOrient":"right","titlePadding":2,"offset":13,"padding":0}
}
}
